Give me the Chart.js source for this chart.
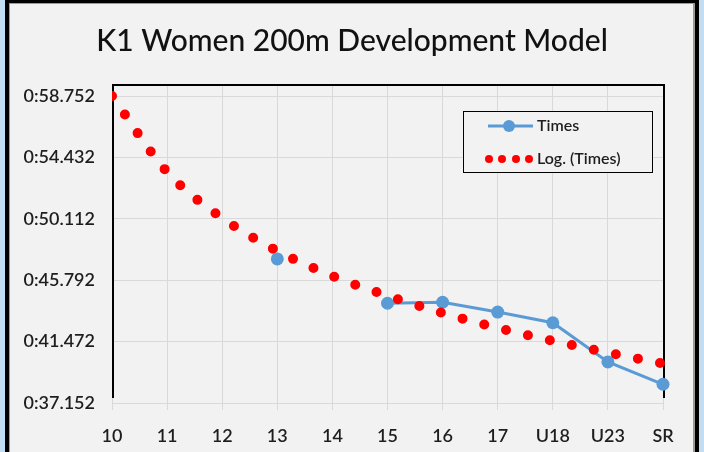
<!DOCTYPE html>
<html>
<head>
<meta charset="utf-8">
<title>K1 Women 200m Development Model</title>
<script src="https://cdn.jsdelivr.net/npm/chart.js@4.4.0/dist/chart.umd.min.js"></script>
<style>
    html, body { margin: 0; padding: 0; background: #c3ddf3; }
    #wrap { width: 704px; height: 452px; }
</style>
</head>
<body>
<div id="wrap"><canvas id="devChart" width="704" height="452"></canvas></div>
<script>
// --- data (seconds) ---
const categories = ["10", "11", "12", "13", "14", "15", "16", "17", "U18", "U23", "SR"];
const times = [null, null, null, 47.29, null, 44.17, 44.24, 43.55, 42.80, 40.04, 38.47];
const logTimes = [58.75, 53.41, 50.17, 47.85, 46.09, 44.70, 43.49, 42.43, 41.52, 40.70, 39.92];
const yTicks = [37.152, 41.472, 45.792, 50.112, 54.432, 58.752];
const yMin = 37.152;
const yMax = 59.53;

// --- colours ---
const palette = {
    blue: "#5b9bd5",
    red: "#ff0000",
    grid: "#d9d9d9",
    text: "#1e1e1e",
    panel: "#f2f2f2",
};

const fontFamily = "Lato, 'Open Sans', sans-serif";

// 0:58.752 style labels
function fmtTime(v) {
    const m = Math.floor(v / 60);
    const s = v - m * 60;
    return m + ":" + (s < 10 ? "0" : "") + s.toFixed(3);
}

// background frame: blue edge, black border, grey panel
const framePlugin = {
    id: "frame",
    beforeDraw(chart) {
        const ctx = chart.ctx;
        ctx.save();
        ctx.fillStyle = "#c3ddf3";
        ctx.fillRect(0, 0, 704, 452);
        ctx.fillStyle = "#000000";
        ctx.fillRect(5, 0, 694, 452);
        ctx.fillStyle = "#9a9a9a";
        ctx.fillRect(9, 3, 686, 449);
        ctx.fillStyle = palette.panel;
        ctx.fillRect(10, 4, 683, 448);
        ctx.restore();
    },
    // black plot outline (left, top, right)
    beforeDatasetsDraw(chart) {
        const { ctx, chartArea } = chart;
        const l = chartArea.left + 1, r = chartArea.right + 1;
        const t = chartArea.top, b = chartArea.bottom - 5;
        ctx.save();
        ctx.strokeStyle = "#000000";
        ctx.lineWidth = 2;
        ctx.beginPath();
        ctx.moveTo(l, b);
        ctx.lineTo(l, t);
        ctx.lineTo(r, t);
        ctx.lineTo(r, b);
        ctx.stroke();
        ctx.restore();
    },
};

// legend box inside the plot
const legendBoxPlugin = {
    id: "legendBox",
    afterDraw(chart) {
        const ctx = chart.ctx;
        ctx.save();
        ctx.fillStyle = palette.panel;
        ctx.fillRect(463, 111, 189, 61);
        ctx.strokeStyle = "#000000";
        ctx.lineWidth = 1;
        ctx.strokeRect(463.5, 111.5, 189, 61);

        // Times
        ctx.strokeStyle = palette.blue;
        ctx.lineWidth = 3;
        ctx.beginPath();
        ctx.moveTo(488, 126);
        ctx.lineTo(533, 126);
        ctx.stroke();
        ctx.fillStyle = palette.blue;
        ctx.beginPath();
        ctx.arc(509, 126, 6, 0, Math.PI * 2);
        ctx.fill();

        // Log. (Times)
        ctx.fillStyle = palette.red;
        [489, 502, 516, 529].forEach((x) => {
            ctx.beginPath();
            ctx.arc(x, 159, 4, 0, Math.PI * 2);
            ctx.fill();
        });

        ctx.fillStyle = palette.text;
        ctx.font = "600 16px " + fontFamily;
        ctx.textBaseline = "middle";
        ctx.textAlign = "left";
        ctx.fillText("Times", 537, 126);
        ctx.fillText("Log. (Times)", 537, 159);
        ctx.restore();
    },
};

const tickFont = { family: fontFamily, size: 18, weight: "600" };

new Chart(document.getElementById("devChart"), {
    type: "line",
    data: {
        labels: categories,
        datasets: [
            {
                label: "Log. (Times)",
                data: logTimes,
                order: 0,
                borderColor: palette.red,
                borderWidth: 10,
                borderDash: [0, 22.5],
                borderCapStyle: "round",
                cubicInterpolationMode: "monotone",
                pointRadius: 0,
                fill: false,
                clip: { left: 0, top: 8, right: 8, bottom: 8 },
            },
            {
                label: "Times",
                data: times,
                order: 1,
                borderColor: palette.blue,
                borderWidth: 3,
                pointRadius: 6.5,
                pointBorderWidth: 0,
                pointBackgroundColor: palette.blue,
                spanGaps: false,
                fill: false,
                clip: 10,
            },
        ],
    },
    options: {
        responsive: false,
        animation: false,
        layout: { padding: 0 },
        plugins: {
            legend: { display: false },
            tooltip: { enabled: false },
            title: {
                display: true,
                text: "K1 Women 200m Development Model",
                color: "#111111",
                font: { family: fontFamily, size: 30, weight: "500" },
                padding: { top: 23, bottom: 26 },
            },
        },
        scales: {
            x: {
                offset: false,
                grid: { color: palette.grid, lineWidth: 1, tickLength: 7 },
                border: { color: palette.grid },
                ticks: {
                    color: palette.text,
                    font: tickFont,
                    padding: 15,
                    maxRotation: 0,
                    autoSkip: false,
                },
                afterFit(scale) {
                    scale.height = 49;
                },
            },
            y: {
                min: yMin,
                max: yMax,
                afterBuildTicks(scale) {
                    scale.ticks = yTicks.map((v) => ({ value: v }));
                },
                grid: { color: palette.grid, lineWidth: 1, drawTicks: false },
                border: { display: false },
                ticks: {
                    color: palette.text,
                    font: tickFont,
                    padding: 17,
                    callback: (v) => fmtTime(v),
                },
                afterFit(scale) {
                    scale.width = 112;
                },
            },
            // empty right-hand spacer so the plot ends at SR like the original
            yRight: {
                position: "right",
                display: true,
                min: yMin,
                max: yMax,
                grid: { display: false },
                border: { display: false },
                ticks: { display: false },
                afterFit(scale) {
                    scale.width = 41;
                },
            },
        },
    },
    plugins: [framePlugin, legendBoxPlugin],
});
</script>
</body>
</html>
